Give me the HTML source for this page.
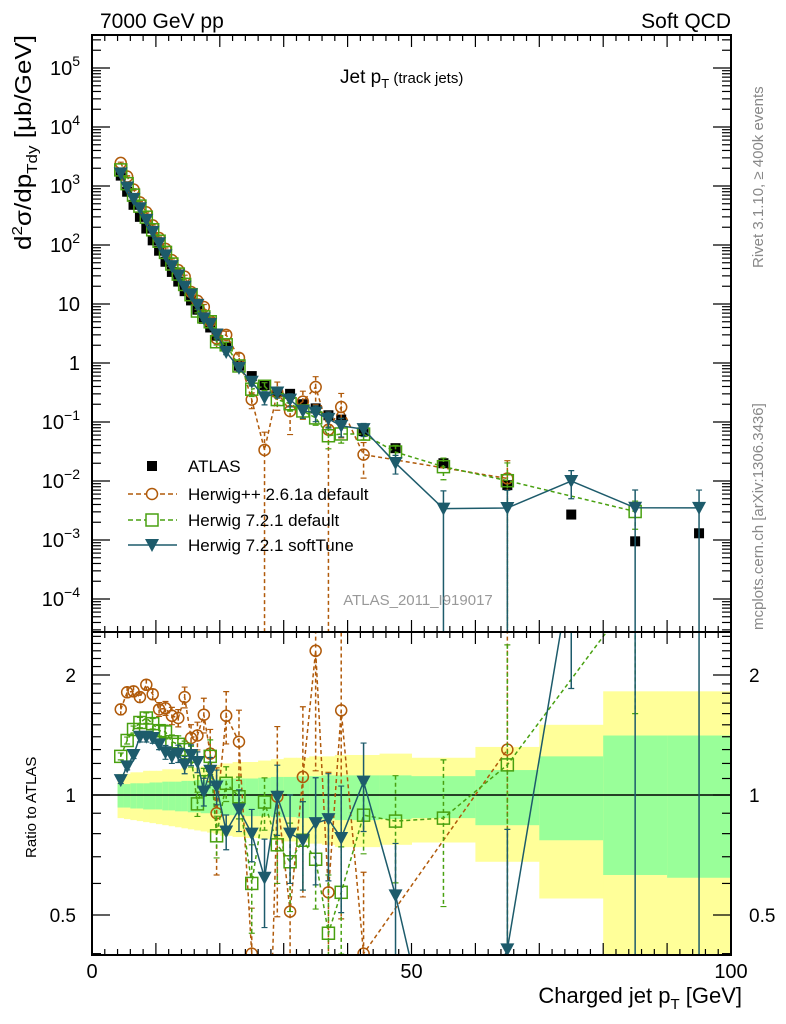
<!DOCTYPE html>
<html><head><meta charset="utf-8"><style>
html,body{margin:0;padding:0;background:#fff;width:786px;height:1024px;overflow:hidden;}
svg{display:block;font-family:"Liberation Sans",sans-serif;}
</style></head><body>
<svg id="chart" width="786" height="1024" viewBox="0 0 786 1024" xmlns="http://www.w3.org/2000/svg" overflow="hidden">
<defs>
<clipPath id="clipMain"><rect x="92" y="35" width="639" height="597"/></clipPath>
<clipPath id="clipRatio"><rect x="92" y="632" width="639" height="323"/></clipPath>
</defs>
<g id="bands" clip-path="url(#clipRatio)"></g>
<line x1="92" y1="795" x2="731" y2="795" stroke="#000" stroke-width="1.5"/>
<g id="mainMarks" clip-path="url(#clipMain)"></g>
<g id="ratioMarks" clip-path="url(#clipRatio)"></g>
<g id="axes"></g>
<text x="100" y="28" font-size="21">7000 GeV pp</text>
<text x="731" y="28" font-size="21" text-anchor="end">Soft QCD</text>
<text x="340" y="83" font-size="19">Jet p<tspan font-size="13" dy="5">T</tspan><tspan dy="-5" font-size="15"> (track jets)</tspan></text>
<text transform="translate(31,250) rotate(-90)" font-size="23" textLength="215" lengthAdjust="spacingAndGlyphs">d<tspan font-size="15" dy="-9">2</tspan><tspan dy="9">σ/dp</tspan><tspan font-size="15" dy="6">Tdy</tspan><tspan dy="-6"> [μb/GeV]</tspan></text>
<text transform="translate(36,858) rotate(-90)" font-size="15">Ratio to ATLAS</text>
<text x="742" y="1003" font-size="22" text-anchor="end">Charged jet p<tspan font-size="15" dy="6">T</tspan><tspan dy="-6"> [GeV]</tspan></text>
<text transform="translate(763,268) rotate(-90)" font-size="15" fill="#888">Rivet 3.1.10, ≥ 400k events</text>
<text transform="translate(763,630) rotate(-90)" font-size="15" fill="#888">mcplots.cern.ch [arXiv:1306.3436]</text>
<text x="418" y="605" font-size="15" fill="#999" text-anchor="middle">ATLAS_2011_I919017</text>
<g font-size="17">
 <rect x="147" y="461" width="10" height="10" fill="#000"/>
 <text x="188" y="472">ATLAS</text>
 <line x1="128" y1="494" x2="177" y2="494" stroke="#b05a0a" stroke-width="1.5" stroke-dasharray="5,3"/>
 <circle cx="152" cy="494" r="5.5" fill="#fff" stroke="#b05a0a" stroke-width="1.5"/>
 <text x="188" y="500">Herwig++ 2.6.1a default</text>
 <line x1="128" y1="520" x2="177" y2="520" stroke="#48a010" stroke-width="1.5" stroke-dasharray="5,3"/>
 <rect x="146" y="514" width="12" height="12" fill="#fff" stroke="#48a010" stroke-width="1.5"/>
 <text x="188" y="526">Herwig 7.2.1 default</text>
 <line x1="128" y1="545" x2="177" y2="545" stroke="#1d5b6b" stroke-width="1.5"/>
 <path d="M145,539 L159,539 L152,552 Z" fill="#1d5b6b"/>
 <text x="188" y="551">Herwig 7.2.1 softTune</text>
</g>
</svg>
<script>
const xCenters=[4.5,5.5,6.5,7.5,8.5,9.5,10.5,11.5,12.5,13.5,14.5,15.5,16.5,17.5,18.5,19.5,21,23,25,27,29,31,33,35,37,39,42.5,47.5,55,65,75,85,95];
const binEdges=[4,5,6,7,8,9,10,11,12,13,14,15,16,17,18,19,20,22,24,26,28,30,32,34,36,38,40,45,50,60,70,80,90,100];
const atlas=[1500,800,480,300,190,120,80,52,35,24,16.5,11.5,8,5.6,4,2.9,1.9,0.9,0.6,0.42,0.32,0.3,0.2,0.17,0.13,0.11,0.07,0.036,0.02,0.0085,0.0027,0.00095,0.0013];
const hppRatio=[1.64,1.81,1.82,1.76,1.89,1.79,1.64,1.65,1.58,1.56,1.76,1.39,1.41,1.59,1.27,0.9,1.58,1.36,0.4,0.08,0.99,0.51,1.11,2.3,0.57,1.63,0.4,null,null,1.3,null,null,null];
const hppErr=[0.03,0.03,0.03,0.03,0.03,0.03,0.04,0.04,0.05,0.05,0.06,0.08,0.08,0.1,0.15,0.3,0.15,0.2,0.3,1,0.5,0.6,0.5,0.5,1,0.7,0.6,0,0,1,0,0,0];
const h7Ratio=[1.25,1.37,1.46,1.52,1.56,1.51,1.45,1.44,1.36,1.34,1.3,1.25,0.95,1.08,1.25,0.79,1.07,0.99,0.6,0.96,0.75,0.68,0.77,0.69,0.45,0.57,0.89,0.86,0.875,1.19,null,3.2,null];
const h7Err=[0.02,0.02,0.02,0.03,0.03,0.03,0.03,0.04,0.04,0.05,0.05,0.06,0.07,0.08,0.1,0.12,0.1,0.12,0.25,0.15,0.2,0.25,0.25,0.25,0.4,0.3,0.2,0.3,0.4,1,0,0.5,0];
const softRatio=[1.09,1.18,1.26,1.4,1.4,1.39,1.34,1.28,1.25,1.27,1.19,1.26,1.21,1.02,1.15,1.05,0.81,0.92,0.8,0.62,0.99,0.8,0.77,0.85,0.87,0.78,1.08,0.56,0.17,0.41,3.7,3.7,2.7];
const softErr=[0.02,0.02,0.02,0.03,0.03,0.03,0.03,0.04,0.04,0.05,0.05,0.06,0.06,0.08,0.08,0.1,0.1,0.12,0.15,0.25,0.2,0.25,0.25,0.3,0.3,0.35,0.25,0.35,1,1,0.5,1,1];
const yellowUp=[1.13,1.13,1.14,1.14,1.15,1.15,1.15,1.16,1.16,1.16,1.17,1.17,1.17,1.18,1.18,1.19,1.2,1.21,1.21,1.22,1.23,1.24,1.24,1.25,1.25,1.26,1.26,1.27,1.24,1.32,1.5,1.82,1.82];
const greenUp=[1.065,1.065,1.07,1.07,1.07,1.075,1.075,1.08,1.08,1.08,1.085,1.085,1.09,1.09,1.09,1.095,1.1,1.1,1.1,1.105,1.11,1.11,1.115,1.115,1.12,1.12,1.12,1.12,1.115,1.155,1.25,1.41,1.41];
const greenDn=[0.93,0.93,0.925,0.925,0.92,0.92,0.92,0.915,0.915,0.91,0.91,0.905,0.905,0.9,0.9,0.895,0.89,0.89,0.885,0.885,0.88,0.88,0.875,0.875,0.87,0.865,0.865,0.87,0.875,0.84,0.77,0.63,0.62];
const yellowDn=[0.875,0.87,0.865,0.86,0.855,0.85,0.845,0.84,0.835,0.83,0.825,0.82,0.815,0.81,0.805,0.8,0.79,0.785,0.78,0.775,0.77,0.765,0.76,0.755,0.75,0.74,0.74,0.75,0.76,0.68,0.55,0.3,0.3];
const mainTickBase=["10","10","10","10","10","1","10","10","10","10"];
const mainTickSup=["5","4","3","2","","","−1","−2","−3","−4"];
const mainTickExp=[5,4,3,2,1,0,-1,-2,-3,-4];
const ratioTicks=[2,1,0.5];
const ratioTickLabels=["2","1","0.5"];
const xTicks=[0,50,100];

const NS="http://www.w3.org/2000/svg";
const sx=x=>92+6.39*x;
const sy=v=>363-59*Math.log10(v);
const ry=r=>795-120*Math.log2(r);
function mk(tag,attrs,parent){const e=document.createElementNS(NS,tag);for(const k in attrs)e.setAttribute(k,attrs[k]);parent.appendChild(e);return e;}
const bands=document.getElementById('bands'),mainG=document.getElementById('mainMarks'),ratioG=document.getElementById('ratioMarks'),axes=document.getElementById('axes');
const BROWN="#b05a0a",GREEN="#48a010",TEAL="#1d5b6b";

for(let i=0;i<xCenters.length;i++){
  const x0=sx(binEdges[i]),x1=sx(binEdges[i+1]);
  let r=mk('rect',{x:x0,y:ry(yellowUp[i]),width:x1-x0+0.5,height:ry(yellowDn[i])-ry(yellowUp[i]),fill:'#ffff99'},bands);
  
  
  r=mk('rect',{x:x0,y:ry(greenUp[i]),width:x1-x0+0.5,height:ry(greenDn[i])-ry(greenUp[i]),fill:'#99ff99'},bands);
  
  
}

function marker(type,cx,cy,color,g){
  let e;
  if(type==='circle')e=mk('circle',{cx:cx,cy:cy,r:5.5,fill:'none',stroke:color,'stroke-width':1.5},g);
  else if(type==='square')e=mk('rect',{x:cx-6,y:cy-6,width:12,height:12,fill:'none',stroke:color,'stroke-width':1.5},g);
  else if(type==='tri')e=mk('path',{d:'M'+(cx-7)+','+(cy-6)+' L'+(cx+7)+','+(cy-6)+' L'+cx+','+(cy+7)+' Z',fill:color},g);
  else e=mk('rect',{x:cx-5,y:cy-5,width:10,height:10,fill:color},g);
  return e;
}
function series(ratio,err,color,type,dash,name){
  const pads=[
    [mainG,function(i){return atlas[i]*ratio[i];},sy,function(i,s){return atlas[i]*ratio[i]*(1+s*err[i]);},640],
    [ratioG,function(i){return ratio[i];},ry,function(i,s){return ratio[i]*(1+s*err[i]);},960]
  ];
  pads.forEach(function(pd){
    const g=pd[0],val=pd[1],Y=pd[2],ev=pd[3],bottom=pd[4];
    let d='';
    for(let i=0;i<xCenters.length;i++){if(ratio[i]==null)continue;d+=(d?'L':'M')+sx(xCenters[i])+','+Y(val(i));}
    const p=mk('path',{d:d,fill:'none',stroke:color,'stroke-width':1.5,'stroke-dasharray':dash},g);
    
    
    for(let i=0;i<xCenters.length;i++){
      if(ratio[i]==null)continue;
      const x=sx(xCenters[i]);
      if(err[i]>0){
        const hi=Y(ev(i,1));
        const lo=ev(i,-1)>0?Math.min(Y(ev(i,-1)),bottom):bottom;
        const eb=mk('line',{x1:x,x2:x,y1:hi,y2:lo,stroke:color,'stroke-width':1.5,'stroke-dasharray':dash},g);
        
        
        const cap=mk('path',{d:'M'+(x-3)+','+hi+'L'+(x+3)+','+hi+'M'+(x-3)+','+lo+'L'+(x+3)+','+lo,stroke:color,'stroke-width':1.2},g);
        
        
      }
      const m=marker(type,x,Y(val(i)),color,g);
      
      
    }
  });
}
for(let i=0;i<xCenters.length;i++){
  const m=marker('atlas',sx(xCenters[i]),sy(atlas[i]),'#000',mainG);
  
  
}
series(hppRatio,hppErr,BROWN,'circle','4,3','herwigpp');
series(h7Ratio,h7Err,GREEN,'square','4,3','herwig7-default');
series(softRatio,softErr,TEAL,'tri','none','herwig7-softtune');

let f=mk('rect',{x:92,y:35,width:639,height:597,fill:'none',stroke:'#000','stroke-width':2},axes);


f=mk('rect',{x:92,y:632,width:639,height:323,fill:'none',stroke:'#000','stroke-width':2},axes);


for(let v=0;v<=100;v+=2){
  const x=sx(v),L=v%10===0?12:6;
  [[35,1],[632,-1],[632,1],[955,-1]].forEach(function(a){
    const t=mk('line',{x1:x,x2:x,y1:a[0],y2:a[0]+a[1]*L,stroke:'#000','stroke-width':1.2},axes);
    
    
  });
}
xTicks.forEach(function(v){
  const t=mk('text',{x:sx(v),y:978,'font-size':20,'text-anchor':'middle'},axes);
  t.textContent=String(v);
  
  
});
for(let e=-5;e<=5;e++){
  for(let k=1;k<10;k++){
    const y=sy(k*Math.pow(10,e));if(y<35||y>632)continue;
    const L=k===1?18:9;
    [[92,1],[731,-1]].forEach(function(a){
      const t=mk('line',{x1:a[0],x2:a[0]+a[1]*L,y1:y,y2:y,stroke:'#000','stroke-width':1.2},axes);
      
      
    });
  }
}
mainTickExp.forEach(function(e,i){
  const t=mk('text',{x:80,y:sy(Math.pow(10,e))+7,'font-size':20,'text-anchor':'end'},axes);
  t.textContent=mainTickBase[i];
  if(mainTickSup[i]){
    const s=mk('tspan',{'font-size':14,dy:-9},t);
    s.textContent=mainTickSup[i];
  }
  
  
});
for(let r=0.4;r<=2.6;r+=0.1){
  const y=ry(r);if(y<632||y>955)continue;
  const major=Math.abs(r-0.5)<0.01||Math.abs(r-1)<0.01||Math.abs(r-2)<0.01;
  const L=major?18:9;
  [[92,1],[731,-1]].forEach(function(a){
    const t=mk('line',{x1:a[0],x2:a[0]+a[1]*L,y1:y,y2:y,stroke:'#000','stroke-width':1.2},axes);
    
    
  });
}
ratioTicks.forEach(function(r,i){
  let t=mk('text',{x:76,y:ry(r)+7,'font-size':19,'text-anchor':'end'},axes);
  t.textContent=ratioTickLabels[i];
  
  
  t=mk('text',{x:749,y:ry(r)+7,'font-size':19},axes);
  t.textContent=ratioTickLabels[i];
  
  
});
</script>
</body></html>
